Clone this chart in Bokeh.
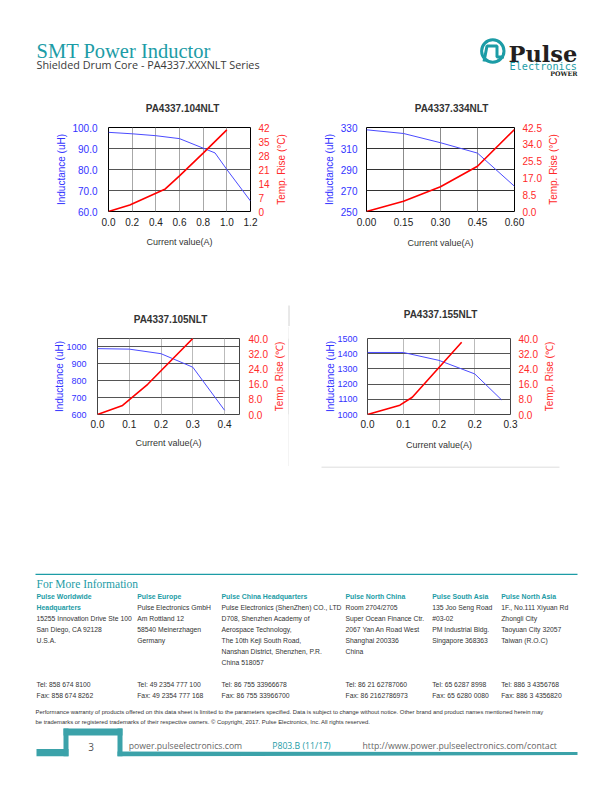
import math
from bokeh.plotting import figure
from bokeh.models import Range1d, LinearAxis, FixedTicker, CustomJSTickFormatter
from bokeh.layouts import column, row
from bokeh.core.properties import value
from bokeh.embed import file_html
from bokeh.resources import INLINE

# ---------------- chart data ----------------
c1_title = "PA4337.104NLT"
c1_x_ind = [0.0, 0.2, 0.4, 0.6, 0.9, 1.0, 1.2]
c1_ind = [97.7, 97.0, 96.1, 94.7, 87.9, 80.0, 65.0]
c1_x_temp = [0.0, 0.18, 0.48, 0.6, 0.8, 1.0]
c1_temp = [0.0, 3.3, 11.3, 17.8, 29.2, 40.8]
c1_xticks = [0.0, 0.2, 0.4, 0.6, 0.8, 1.0, 1.2]
c1_xlabels = ["0.0", "0.2", "0.4", "0.6", "0.8", "1.0", "1.2"]
c1_yticks = [60, 70, 80, 90, 100]
c1_ylabels = ["60.0", "70.0", "80.0", "90.0", "100.0"]
c1_tticks = [0, 7, 14, 21, 28, 35, 42]
c1_tlabels = ["0", "7", "14", "21", "28", "35", "42"]

c2_title = "PA4337.334NLT"
c2_x_ind = [0.0, 0.15, 0.30, 0.45, 0.60]
c2_ind = [327.8, 324.3, 315.5, 305.6, 274.0]
c2_x_temp = [0.0, 0.15, 0.30, 0.45, 0.60]
c2_temp = [0.0, 5.2, 12.5, 22.9, 41.5]
c2_xticks = [0.0, 0.15, 0.30, 0.45, 0.60]
c2_xlabels = ["0.00", "0.15", "0.30", "0.45", "0.60"]
c2_yticks = [250, 270, 290, 310, 330]
c2_ylabels = ["250", "270", "290", "310", "330"]
c2_tticks = [0, 8.5, 17, 25.5, 34, 42.5]
c2_tlabels = ["0.0", "8.5", "17.0", "25.5", "34.0", "42.5"]

c3_title = "PA4337.105NLT"
c3_x_ind = [0.0, 0.1, 0.2, 0.3, 0.4]
c3_ind = [990, 987, 960, 880, 625]
c3_x_temp = [0.0, 0.079, 0.158, 0.3]
c3_temp = [0.0, 4.8, 15.9, 40.0]
c3_xticks = [0.0, 0.1, 0.2, 0.3, 0.4]
c3_xlabels = ["0.0", "0.1", "0.2", "0.3", "0.4"]
c3_yticks = [600, 700, 800, 900, 1000]
c3_ylabels = ["600", "700", "800", "900", "1000"]
c3_tticks = [0, 8, 16, 24, 32, 40]
c3_tlabels = ["0.0", "8.0", "16.0", "24.0", "32.0", "40.0"]

c4_title = "PA4337.155NLT"
c4_x_ind = [0.0, 0.075, 0.15, 0.225, 0.281]
c4_ind = [1408, 1408, 1356, 1267, 1097]
c4_x_temp = [0.0, 0.068, 0.094, 0.150, 0.1975]
c4_temp = [0.0, 4.9, 9.1, 24.7, 38.0]
c4_xticks = [0.0, 0.075, 0.15, 0.225, 0.3]
c4_xlabels = ["0.0", "0.1", "0.2", "0.2", "0.3"]
c4_yticks = [1000, 1100, 1200, 1300, 1400, 1500]
c4_ylabels = ["1000", "1100", "1200", "1300", "1400", "1500"]
c4_tticks = [0, 8, 16, 24, 32, 40]
c4_tlabels = ["0.0", "8.0", "16.0", "24.0", "32.0", "40.0"]

x_axis_title = "Current value(A)"
l_axis_title = "Inductance (uH)"
r_axis_title_a = "Temp. Rise (°C)"
r_axis_title_b = "Temp. Rise (℃)"

# ---------------- page text ----------------
head_title = "SMT Power Inductor"
head_sub = "Shielded Drum Core - PA4337.XXXNLT Series"
contact_heads = [["Pulse Worldwide", "Headquarters"], ["Pulse Europe"], ["Pulse China Headquarters"],
                 ["Pulse North China"], ["Pulse South Asia"], ["Pulse North Asia"]]
contact_body = [
    ["15255 Innovation Drive Ste 100", "San Diego, CA 92128", "U.S.A."],
    ["Pulse Electronics GmbH", "Am Rottland 12", "58540 Meinerzhagen", "Germany"],
    ["Pulse Electronics (ShenZhen) CO., LTD", "D708, Shenzhen Academy of", "Aerospace Technology,",
     "The 10th Keji South Road,", "Nanshan District, Shenzhen, P.R.", "China   518057"],
    ["Room 2704/2705", "Super Ocean Finance Ctr.", "2067 Yan An Road West", "Shanghai 200336", "China"],
    ["135 Joo Seng Road", "#03-02", "PM Industrial Bldg.", "Singapore 368363"],
    ["1F., No.111 Xiyuan Rd", "Zhongli City", "Taoyuan City 32057", "Taiwan (R.O.C)"],
]
contact_tel = ["Tel: 858 674 8100", "Tel: 49 2354 777 100", "Tel: 86 755 33966678",
               "Tel: 86 21 62787060", "Tel: 65 6287 8998", "Tel: 886 3 4356768"]
contact_fax = ["Fax: 858 674 8262", "Fax: 49 2354 777 168", "Fax: 86 755 33966700",
               "Fax: 86 2162786973", "Fax: 65 6280 0080", "Fax: 886 3 4356820"]
disclaimer = ["Performance warranty of products offered on this data sheet is limited to the parameters specified. Data is subject to change without notice. Other brand and product names mentioned herein may",
              "be trademarks or registered trademarks of their respective owners. \u00a9 Copyright, 2017. Pulse Electronics, Inc. All rights reserved."]

TEAL = "#1c9ca6"
BAND = "#3ba2a9"
BLUE_T = "#3333ff"
RED_T = "#ff2a2a"
RULE = "#d2d2d2"
CF = "Liberation Sans"
SMALL = "Liberation Sans"

JS = "const i = t.findIndex(v => Math.abs(v - tick) < 1e-9); return i >= 0 ? l[i] : '';"


def style_axis(ax, ticks, labels, color, standoff, lab_standoff, lab_size, lab_color, tick_size="10px"):
    ax.ticker = FixedTicker(ticks=ticks)
    ax.formatter = CustomJSTickFormatter(args=dict(t=ticks, l=labels), code=JS)
    ax.axis_line_color = None
    ax.major_tick_line_color = None
    ax.minor_tick_line_color = None
    ax.major_tick_in = 0
    ax.major_tick_out = 0
    ax.minor_tick_in = 0
    ax.minor_tick_out = 0
    ax.major_label_text_font = CF
    ax.major_label_text_font_size = tick_size
    ax.major_label_text_color = color
    ax.major_label_standoff = standoff
    ax.axis_label_text_font = CF
    ax.axis_label_text_font_size = lab_size
    ax.axis_label_text_font_style = "normal"
    ax.axis_label_text_color = lab_color
    ax.axis_label_standoff = lab_standoff


def make_chart(cfg, xr, yr, tr, xi, yi, xt, yt, xticks, xlabels, yticks, ylabels, tticks, tlabels):
    p = figure(width=cfg["w"], height=cfg["h"], x_range=Range1d(*xr), y_range=Range1d(*yr),
               output_backend="svg", toolbar_location=None, title=None,
               min_border_left=cfg["bl"], min_border_right=cfg["br"],
               min_border_top=cfg["bt"], min_border_bottom=cfg["bb"],
               x_axis_label=x_axis_title, y_axis_label=l_axis_title)
    p.background_fill_color = "white"
    p.border_fill_color = "white"
    p.outline_line_color = cfg["outline"]
    p.outline_line_width = 1
    p.extra_y_ranges = {"temp": Range1d(*tr)}
    style_axis(p.xaxis[0], xticks, xlabels, "#222222", cfg["xs"], cfg["xls"], "9px", "#333333")
    style_axis(p.yaxis[0], yticks, ylabels, BLUE_T, cfg["ys"], cfg["yls"], "10px", BLUE_T, cfg["ytf"])
    rax = LinearAxis(y_range_name="temp")
    style_axis(rax, tticks, tlabels, RED_T, cfg["rs"], 0, "10px", RED_T)
    p.add_layout(rax, "right")
    p.xgrid.ticker = FixedTicker(ticks=xticks)
    p.ygrid.ticker = FixedTicker(ticks=yticks)
    p.xgrid.grid_line_color = cfg["xg"]
    p.ygrid.grid_line_color = cfg["yg"]
    p.line(xi, yi, line_color="#4b4bff", line_width=1)
    p.line(xt, yt, line_color="#ff0000", line_width=1.6, y_range_name="temp")
    return p


# row 1 spans page y 117..290, row 2 spans page y 326..466
cfg1 = dict(w=272, h=173, bl=108, br=22, bt=10, bb=77, outline="black",
            xs=6, xls=8, ys=11, yls=2, ytf="10px", rs=8, xg="#a8a8a8", yg="#555555")
cfg2 = dict(w=252, h=173, bl=74, br=30, bt=10, bb=79, outline="black",
            xs=6, xls=9, ys=9, yls=3, ytf="10px", rs=8, xg="#8c8c8c", yg="#333333")
cfg3 = dict(w=270, h=140, bl=97, br=30, bt=12, bb=48, outline="#444444",
            xs=5, xls=7, ys=11, yls=-2, ytf="9px", rs=9, xg="#bbbbbb", yg="#555555")
cfg4 = dict(w=251, h=140, bl=78, br=30, bt=7, bb=52, outline="#444444",
            xs=5, xls=9, ys=10, yls=-2, ytf="9px", rs=8, xg="#bbbbbb", yg="#555555")

ch1 = make_chart(cfg1, (0, 1.2), (60, 100), (0, 42), c1_x_ind, c1_ind, c1_x_temp, c1_temp,
                 c1_xticks, c1_xlabels, c1_yticks, c1_ylabels, c1_tticks, c1_tlabels)
ch2 = make_chart(cfg2, (0, 0.6), (250, 330), (0, 42.5), c2_x_ind, c2_ind, c2_x_temp, c2_temp,
                 c2_xticks, c2_xlabels, c2_yticks, c2_ylabels, c2_tticks, c2_tlabels)
ch3 = make_chart(cfg3, (0, 0.447), (600, 1050), (0, 40), c3_x_ind, c3_ind, c3_x_temp, c3_temp,
                 c3_xticks, c3_xlabels, c3_yticks, c3_ylabels, c3_tticks, c3_tlabels)
ch4 = make_chart(cfg4, (0, 0.3), (1000, 1500), (0, 40), c4_x_ind, c4_ind, c4_x_temp, c4_temp,
                 c4_xticks, c4_xlabels, c4_yticks, c4_ylabels, c4_tticks, c4_tlabels)


def label_strip(w, h, bl, bt, bb, text):
    """Narrow strip whose left-axis title is the right-hand (temperature) axis title of a chart."""
    p = figure(width=w, height=h, x_range=Range1d(0, 1), y_range=Range1d(0, 1),
               output_backend="svg", toolbar_location=None, title=None,
               min_border_left=bl, min_border_right=0, min_border_top=bt, min_border_bottom=bb,
               x_axis_location=None, y_axis_location=None)
    p.grid.visible = False
    p.outline_line_color = None
    p.background_fill_color = "white"
    p.border_fill_color = "white"
    ax = LinearAxis(axis_label=text)
    style_axis(ax, [], [], RED_T, 0, 0, "10px", RED_T)
    p.add_layout(ax, "left")
    return p


def page_fig(w, h, x0, y0, bg="white"):
    p = figure(width=w, height=h, x_range=Range1d(x0, x0 + w), y_range=Range1d(y0 + h, y0),
               output_backend="svg", toolbar_location=None, min_border=0, title=None,
               x_axis_location=None, y_axis_location=None)
    p.grid.visible = False
    p.outline_line_color = None
    p.background_fill_color = bg
    p.border_fill_color = bg
    return p


def txt(p, x, y, t, font, size, color, style="normal", align="left", baseline="alphabetic"):
    p.text(x=[x], y=[y], text=[t], text_font=value(font), text_font_size=value(size),
           text_color=color, text_font_style=style, text_align=align, text_baseline=baseline)


def rule(p, xs, ys, w=1.0):
    p.line(x=xs, y=ys, line_color=RULE, line_width=w)


def title_txt(p, x, y, t):
    txt(p, x, y, t, CF, "10px", "#333333", style="bold", align="center", baseline="middle")


# ---------------- header ----------------
hdr = page_fig(596, 92, 0, 0)
txt(hdr, 36, 50.7, head_title, "Liberation Serif", "20.5px", TEAL)
txt(hdr, 36, 64, head_sub, "Open Sans", "10.8px", "#3a3a3a")
hdr.circle(x=[492.3], y=[50.5], radius=11.2, fill_color=None, line_color=TEAL, line_width=3)
hdr.line(x=[483.5, 486.5, 496.5, 496.5, 503.5], y=[61, 45.5, 45.5, 56.5, 56.5], line_color=TEAL, line_width=3)
txt(hdr, 508, 53, "Pulse", "DejaVu Serif", "22.5px", "#231f20", style="bold")
txt(hdr, 509, 66, "Electronics", "DejaVu Sans Mono", "10.2px", TEAL)
txt(hdr, 577, 72.7, "POWER", "DejaVu Serif", "6.3px", "#231f20", style="bold", align="right")

# ---------------- chart titles, right-axis titles, rules ----------------
ts1 = page_fig(596, 25, 0, 92)
title_txt(ts1, 182, 107.7, c1_title)
title_txt(ts1, 451, 107.7, c2_title)

s1 = label_strip(20, 173, 12, 10, 77, r_axis_title_a)
s2 = label_strip(52, 173, 10, 10, 79, r_axis_title_a)

ts2 = page_fig(596, 36, 0, 290)
title_txt(ts2, 170, 319, c3_title)
title_txt(ts2, 440, 314.3, c4_title)
rule(ts2, [288.5, 288.5], [305, 326])

s3 = label_strip(18, 140, 11, 12, 48, r_axis_title_b)
r3 = page_fig(1, 140, 288, 326, bg=RULE)
s4 = label_strip(56, 140, 12, 7, 52, r_axis_title_b)

# ---------------- footer ----------------
ftr = page_fig(596, 310, 0, 466)
rule(ftr, [321, 559], [466.5, 466.5])
ftr.line(x=[35, 577], y=[573.8, 573.8], line_color=TEAL, line_width=1.2)
txt(ftr, 36, 583.5, "For More Information", "Liberation Serif", "11.5px", TEAL)
col_x = [36, 136.7, 221, 345, 431.7, 500.7]
for i, cx in enumerate(col_x):
    yy = 595.5
    for h in contact_heads[i]:
        txt(ftr, cx, yy, h, SMALL, "6.9px", TEAL, style="bold")
        yy += 11
    for b in contact_body[i]:
        txt(ftr, cx, yy, b, SMALL, "6.8px", "#333333")
        yy += 11
    txt(ftr, cx, 684, contact_tel[i], SMALL, "6.8px", "#333333")
    txt(ftr, cx, 695, contact_fax[i], SMALL, "6.8px", "#333333")
txt(ftr, 35, 711.5, disclaimer[0], SMALL, "5.9px", "#333333")
txt(ftr, 35, 721, disclaimer[1], SMALL, "5.9px", "#333333")
ftr.quad(left=[36, 63, 63, 117], right=[68, 68, 122, 122], top=[748.5, 728, 728, 728],
         bottom=[755.8, 755.8, 735, 755.8], fill_color=BAND, line_color=None)
ftr.patch(x=[117, 577, 577, 117], y=[751, 751.5, 754.5, 755.8], fill_color=BAND, line_color=None)
txt(ftr, 90.7, 746.7, "3", "Open Sans", "10px", "#555555", align="center")
txt(ftr, 128.3, 745.5, "power.pulseelectronics.com", "Open Sans", "8.7px", "#666666")
txt(ftr, 271.7, 745.5, "P803.B (11/17)", "Open Sans", "8.7px", TEAL)
txt(ftr, 362, 745.5, "http://www.power.pulseelectronics.com/contact", "Open Sans", "8.7px", "#666666")

page = column(hdr, ts1, row(ch1, s1, ch2, s2), ts2, row(ch3, s3, r3, ch4, s4), ftr)

open("out.html", "w").write(file_html(page, INLINE))
